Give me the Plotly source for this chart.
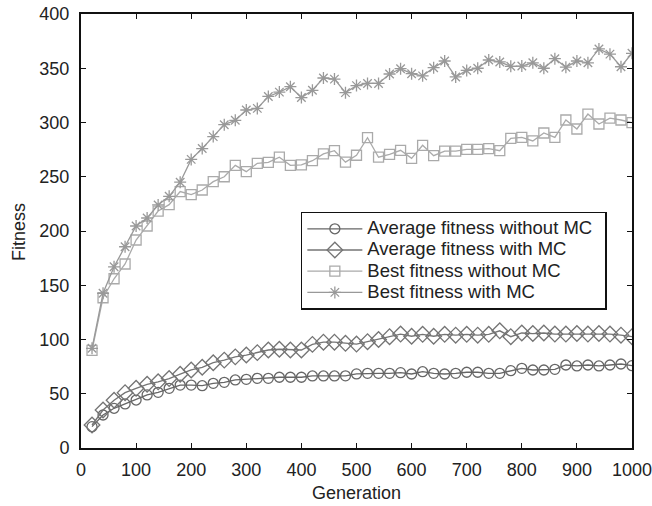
import plotly.graph_objects as go

generations = list(range(20, 1001, 20))

avg_without_mc = [19.7, 30.4, 36.6, 40.6, 44.2, 48.9, 51.3, 55.0, 58.0, 58.0,
                  57.4, 59.6, 60.5, 62.7, 63.3, 64.2, 64.2, 65.2, 65.2, 65.2,
                  66.4, 66.4, 66.4, 66.5, 68.3, 68.8, 68.8, 68.8, 69.4, 68.2,
                  70.3, 68.8, 68.2, 68.8, 69.8, 69.8, 68.8, 68.8, 71.3, 73.4,
                  71.9, 71.9, 72.5, 76.5, 75.6, 76.5, 75.6, 76.5, 77.4, 75.9]

avg_with_mc = [21.2, 35.0, 44.0, 51.0, 55.0, 58.7, 61.0, 64.0, 68.0, 71.9,
               74.4, 78.6, 81.0, 84.0, 85.7, 87.9, 90.3, 91.0, 90.3, 90.3,
               95.5, 97.5, 97.5, 96.5, 95.8, 98.0, 100.0, 102.6, 105.0, 103.0,
               104.8, 103.0, 104.8, 104.0, 104.8, 104.0, 104.8, 108.0, 102.6, 106.0,
               105.5, 106.0, 105.0, 105.0, 105.5, 105.0, 105.5, 105.0, 104.0, 102.6]

best_without_mc = [90.0, 138.5, 156.0, 169.6, 191.7, 204.6, 218.4, 224.3, 236.3, 233.5,
                   237.8, 245.5, 250.0, 260.5, 254.7, 262.4, 263.3, 268.0, 260.5, 261.0,
                   264.8, 271.0, 274.0, 263.5, 269.8, 286.0, 268.0, 270.7, 274.4, 267.0,
                   279.0, 269.4, 273.7, 273.7, 275.3, 275.3, 276.0, 274.0, 285.4, 286.3,
                   283.0, 290.3, 286.3, 302.3, 294.0, 307.8, 298.6, 304.0, 302.3, 299.8]

best_with_mc = [91.9, 142.6, 167.0, 185.5, 204.6, 212.0, 224.0, 232.0, 245.0, 266.0,
                276.0, 287.0, 298.0, 302.0, 311.5, 313.0, 324.0, 328.0, 333.0, 323.0,
                329.7, 341.0, 340.0, 327.5, 334.0, 336.0, 336.0, 344.7, 349.6, 345.0,
                343.0, 350.5, 356.7, 342.0, 348.0, 350.0, 357.6, 355.8, 351.8, 352.0,
                355.0, 350.0, 358.8, 351.0, 356.7, 355.0, 367.8, 363.0, 351.4, 363.8]

series_names = ["Average fitness without MC", "Average fitness with MC",
                "Best fitness without MC", "Best fitness with MC"]

x_ticks = list(range(0, 1001, 100))
y_ticks = list(range(0, 401, 50))

series = [
    (series_names[0], avg_without_mc, "#666666", "circle-open", 10),
    (series_names[1], avg_with_mc, "#747474", "diamond-open", 12),
    (series_names[2], best_without_mc, "#aaaaaa", "square-open", 10),
    (series_names[3], best_with_mc, "#999999", "asterisk-open", 10),
]

fig = go.Figure()
for name, vals, color, sym, size in series:
    label = '<span style="font-size:18.5px">' + name + '</span>&nbsp;&nbsp;'
    fig.add_trace(go.Scatter(
        x=generations, y=vals, name=label, mode="lines+markers",
        line=dict(color=color, width=1.3),
        marker=dict(symbol=sym, size=size, color=color,
                    line=dict(color=color, width=1.3)),
    ))

font_family = "Liberation Sans, Arial, sans-serif"
fig.update_layout(
    width=652, height=506,
    margin=dict(l=81, r=20, t=14, b=58),
    paper_bgcolor="white", plot_bgcolor="white",
    font=dict(family=font_family, size=18, color="#222222"),
    showlegend=True,
    legend=dict(
        x=0.399, y=0.5445, xanchor="left", yanchor="top",
        bgcolor="white", bordercolor="#111111", borderwidth=1.5,
        font=dict(size=14, color="#222222"),
        tracegroupgap=0, itemwidth=55,
    ),
    annotations=[
        dict(text="Generation", xref="paper", yref="paper", x=0.5, y=-0.1037,
             xanchor="center", yanchor="middle", showarrow=False,
             font=dict(size=18, color="#222222")),
        dict(text="Fitness", xref="paper", yref="paper", x=-0.1125, y=0.4977,
             xanchor="center", yanchor="middle", showarrow=False, textangle=-90,
             font=dict(size=18, color="#222222")),
    ],
)
fig.update_xaxes(
    range=[0, 1000], tickvals=x_ticks, automargin=False,
    showgrid=False, zeroline=False, ticklabeloverflow="allow",
    showline=True, linecolor="#111111", linewidth=2, mirror="ticks",
    ticks="inside", ticklen=5, tickcolor="#111111", tickwidth=1,
    tickfont=dict(size=18), ticklabelstandoff=4,
)
fig.update_yaxes(
    range=[0, 400], tickvals=y_ticks, automargin=False,
    showgrid=False, zeroline=False, ticklabeloverflow="allow",
    showline=True, linecolor="#111111", linewidth=2, mirror="ticks",
    ticks="inside", ticklen=5, tickcolor="#111111", tickwidth=1,
    tickfont=dict(size=18), ticklabelstandoff=6,
)

fig.write_html("out.html")
